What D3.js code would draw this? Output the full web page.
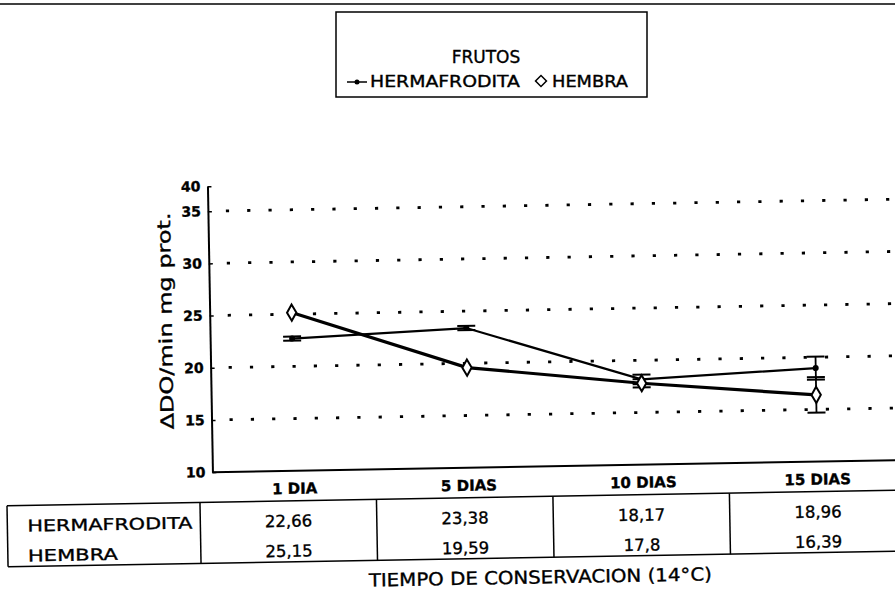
<!DOCTYPE html>
<html>
<head>
<meta charset="utf-8">
<script src="https://cdn.jsdelivr.net/npm/d3@7"></script>
<style>
  body { margin: 0; background: #fff; }
  svg { display: block; }
  text { fill: #000; stroke: #000; stroke-width: 0.35px; }
</style>
</head>
<body>
<script>
    var categories = ["1 DIA", "5 DIAS", "10 DIAS", "15 DIAS"];
    var hermafrodita = [22.66, 23.38, 18.17, 18.96];
    var hembra = [25.15, 19.59, 17.8, 16.39];
    var hermErr = [0.2, 0.2, 0.45, 1.1];
    var hembErr = [0, 0, 0.4, 1.7];
    var yTicks = [10, 15, 20, 25, 30, 35, 40];
    var gridValues = [15, 20, 25, 30, 35];
    var rowNames = ["HERMAFRODITA", "HEMBRA"];

    var font = "DejaVu Sans";
    var fmt = function (v) { return String(v).replace(".", ","); };

    var svg = d3.select("body").append("svg")
        .attr("width", 895)
        .attr("height", 597);

    // linea superior
    svg.append("line")
        .attr("x1", 0).attr("x2", 895)
        .attr("y1", 4).attr("y2", 4)
        .attr("stroke", "#000").attr("stroke-width", 1.5);

    // leyenda
    var leg = svg.append("g");
    leg.append("rect")
        .attr("x", 336).attr("y", 12)
        .attr("width", 311).attr("height", 85)
        .attr("fill", "none").attr("stroke", "#000").attr("stroke-width", 1.5);
    leg.append("text")
        .attr("x", 486).attr("y", 63)
        .attr("text-anchor", "middle")
        .attr("font-family", font).attr("font-size", "17px")
        .text("FRUTOS");
    leg.append("line")
        .attr("x1", 347).attr("x2", 367).attr("y1", 82).attr("y2", 82)
        .attr("stroke", "#000").attr("stroke-width", 1.5);
    leg.append("circle")
        .attr("cx", 357).attr("cy", 82).attr("r", 2.5).attr("fill", "#000");
    leg.append("text")
        .attr("x", 370).attr("y", 87)
        .attr("font-family", font).attr("font-size", "15px")
        .attr("textLength", 150).attr("lengthAdjust", "spacingAndGlyphs")
        .text(rowNames[0]);
    leg.append("path")
        .attr("d", d3.symbol(d3.symbolSquare, 60)())
        .attr("transform", "translate(541,81) rotate(45)")
        .attr("fill", "#fff").attr("stroke", "#000").attr("stroke-width", 1.5);
    leg.append("text")
        .attr("x", 552).attr("y", 87)
        .attr("font-family", font).attr("font-size", "15px")
        .attr("textLength", 76).attr("lengthAdjust", "spacingAndGlyphs")
        .text(rowNames[1]);

    // grafico (el original esta escaneado algo girado)
    var g = svg.append("g").attr("transform", "rotate(-1,450,330)");

    var x = d3.scalePoint().domain(categories).range([292, 815]);
    var xBand = d3.scaleBand().domain(categories).range([197, 903]);
    var y = d3.scaleLinear().domain([10, 35, 40]).range([468, 207, 182]);

    // lineas de puntos
    g.selectAll(".grid")
        .data(gridValues)
        .enter()
        .append("line")
        .attr("x1", 228).attr("x2", 905)
        .attr("y1", function (d) { return y(d); })
        .attr("y2", function (d) { return y(d); })
        .attr("stroke", "#000")
        .attr("stroke-width", 2.8)
        .attr("stroke-dasharray", "3.2,18.1");

    // eje y
    var yAxis = g.append("g")
        .attr("transform", "translate(210,0)")
        .call(d3.axisLeft(y).tickValues(yTicks).tickSizeInner(-4).tickSizeOuter(0).tickPadding(7));
    yAxis.select(".domain").attr("stroke-width", 2);
    yAxis.selectAll(".tick line").attr("stroke-width", 1.5);
    yAxis.selectAll("text")
        .attr("font-family", font).attr("font-size", "14px").attr("font-weight", "bold")
        .attr("fill", "#000");

    // eje x
    g.append("line")
        .attr("x1", 210).attr("x2", 905)
        .attr("y1", y(10)).attr("y2", y(10))
        .attr("stroke", "#000").attr("stroke-width", 2);

    g.selectAll(".cat")
        .data(categories)
        .enter()
        .append("text")
        .attr("x", function (d) { return x(d); })
        .attr("y", 491)
        .attr("text-anchor", "middle")
        .attr("font-family", font).attr("font-size", "15px").attr("font-weight", "bold")
        .text(function (d) { return d; });

    // titulo eje y
    g.append("text")
        .attr("transform", "translate(172,316) rotate(-90)")
        .attr("text-anchor", "middle")
        .attr("font-family", font).attr("font-size", "18px")
        .attr("textLength", 217).attr("lengthAdjust", "spacingAndGlyphs")
        .text("\u0394DO/min mg prot.");

    // barras de error
    function errorBars(values, errs) {
        values.forEach(function (v, i) {
            var e = errs[i];
            if (!e) return;
            var cx = x(categories[i]);
            g.append("line")
                .attr("x1", cx).attr("x2", cx)
                .attr("y1", y(v - e)).attr("y2", y(v + e))
                .attr("stroke", "#000").attr("stroke-width", 1.8);
            [v - e, v + e].forEach(function (w) {
                g.append("line")
                    .attr("x1", cx - 9).attr("x2", cx + 9)
                    .attr("y1", y(w)).attr("y2", y(w))
                    .attr("stroke", "#000").attr("stroke-width", 2);
            });
        });
    }
    errorBars(hermafrodita, hermErr);
    errorBars(hembra, hembErr);

    var line = d3.line()
        .x(function (d, i) { return x(categories[i]); })
        .y(function (d) { return y(d); });

    g.append("path")
        .datum(hermafrodita)
        .attr("d", line)
        .attr("fill", "none").attr("stroke", "#000").attr("stroke-width", 2.2);

    g.append("path")
        .datum(hembra)
        .attr("d", line)
        .attr("fill", "none").attr("stroke", "#000").attr("stroke-width", 3.2);

    g.selectAll(".herm")
        .data(hermafrodita)
        .enter()
        .append("circle")
        .attr("cx", function (d, i) { return x(categories[i]); })
        .attr("cy", function (d) { return y(d); })
        .attr("r", 3)
        .attr("fill", "#000");

    g.selectAll(".hemb")
        .data(hembra)
        .enter()
        .append("path")
        .attr("d", d3.symbol(d3.symbolDiamond, 75)())
        .attr("transform", function (d, i) { return "translate(" + x(categories[i]) + "," + y(d) + ")"; })
        .attr("fill", "#fff").attr("stroke", "#000").attr("stroke-width", 2);

    // tabla
    var tTop = 498, tBot = 559;
    g.append("line").attr("x1", 4).attr("x2", 905).attr("y1", tTop).attr("y2", tTop)
        .attr("stroke", "#000").attr("stroke-width", 1.5);
    g.append("line").attr("x1", 4).attr("x2", 905).attr("y1", tBot).attr("y2", tBot)
        .attr("stroke", "#000").attr("stroke-width", 1.5);
    g.append("line").attr("x1", 4).attr("x2", 4).attr("y1", tTop).attr("y2", tBot)
        .attr("stroke", "#000").attr("stroke-width", 1.5);
    g.selectAll(".div")
        .data(categories)
        .enter()
        .append("line")
        .attr("x1", function (d) { return xBand(d); })
        .attr("x2", function (d) { return xBand(d); })
        .attr("y1", tTop).attr("y2", tBot)
        .attr("stroke", "#000").attr("stroke-width", 1.5);

    var rowY = [524, 554];
    g.selectAll(".rowname")
        .data(rowNames)
        .enter()
        .append("text")
        .attr("x", 24)
        .attr("y", function (d, i) { return rowY[i]; })
        .attr("font-family", font).attr("font-size", "16px")
        .attr("textLength", function (d, i) { return [165, 90][i]; })
        .attr("lengthAdjust", "spacingAndGlyphs")
        .text(function (d) { return d; });

    [hermafrodita, hembra].forEach(function (serie, r) {
        g.selectAll(".val" + r)
            .data(serie)
            .enter()
            .append("text")
            .attr("x", function (d, i) { return xBand(categories[i]) + xBand.bandwidth() / 2; })
            .attr("y", rowY[r])
            .attr("text-anchor", "middle")
            .attr("font-family", font).attr("font-size", "16.5px")
            .text(function (d) { return fmt(d); });
    });

    // titulo eje x
    g.append("text")
        .attr("x", 536).attr("y", 585)
        .attr("text-anchor", "middle")
        .attr("font-family", font).attr("font-size", "18px")
        .attr("textLength", 343).attr("lengthAdjust", "spacingAndGlyphs")
        .text("TIEMPO DE CONSERVACION (14\u00B0C)");
</script>
</body>
</html>
